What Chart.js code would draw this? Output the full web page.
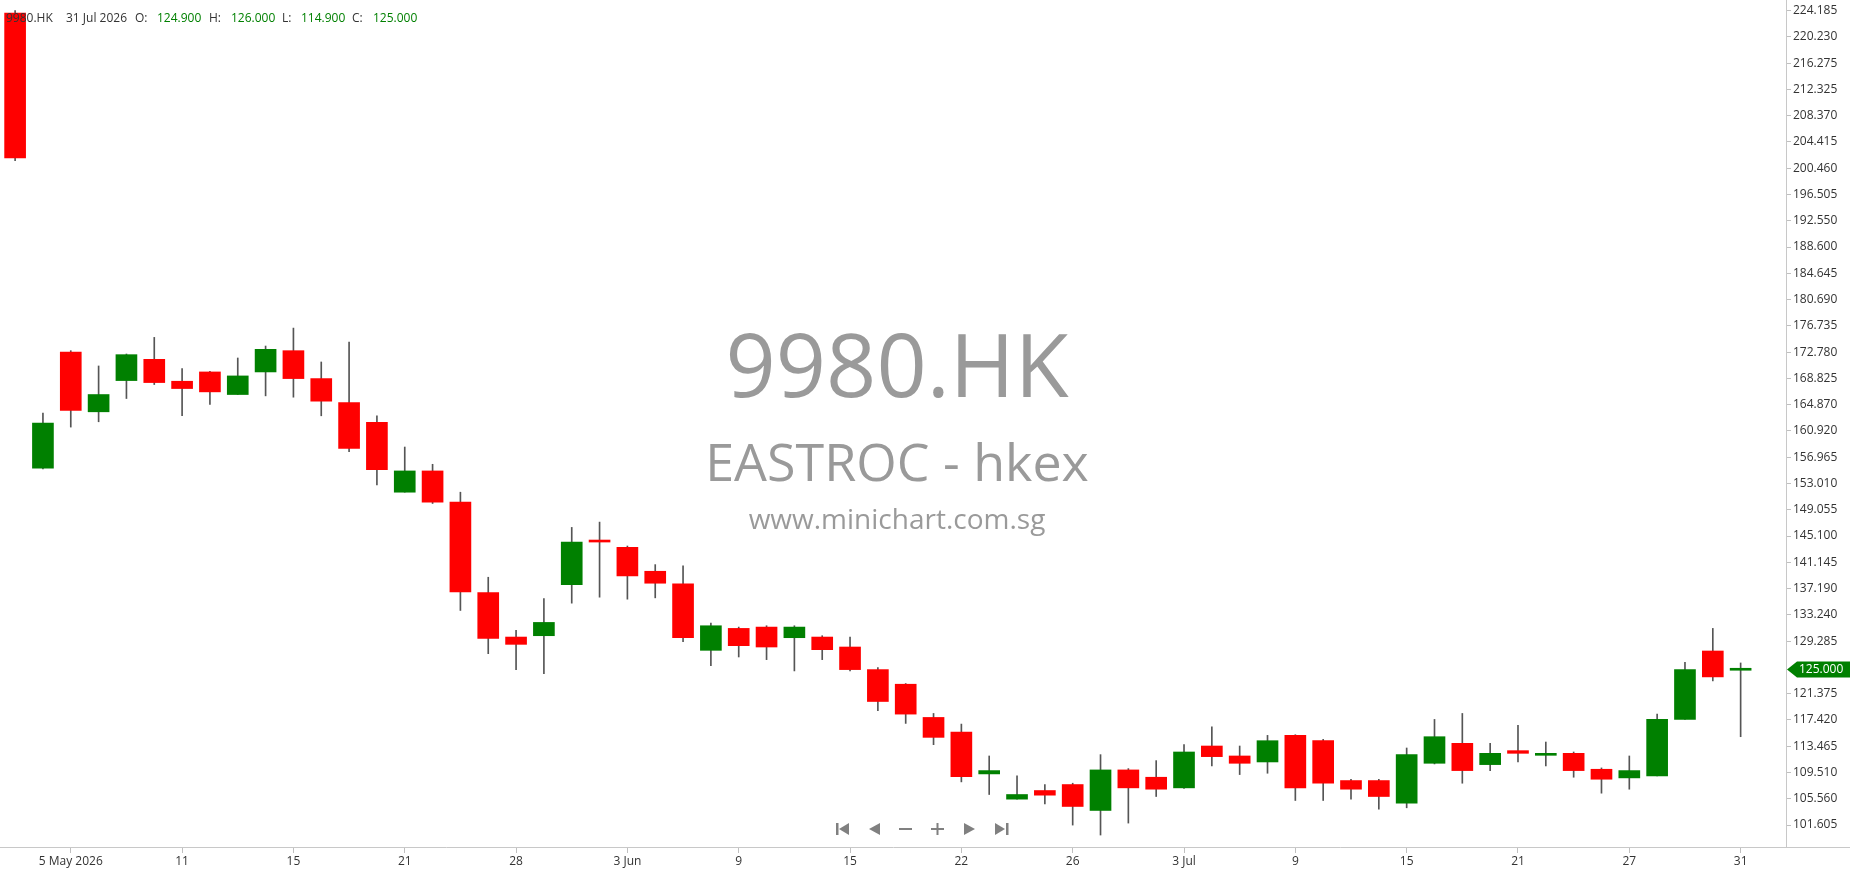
<!DOCTYPE html>
<html lang="en">
<head>
    <meta charset="UTF-8">
    <title>9980.HK - EASTROC</title>
    <script src="https://cdn.jsdelivr.net/npm/chart.js"></script>
    <style>
        html, body { margin: 0; padding: 0; background: #fff; overflow: hidden; }
        #chart { display: block; }
    </style>
</head>
<body>
    <canvas id="chart" width="1850" height="874"></canvas>

    <script>
        // trading days shown (30 Apr .. 31 Jul 2026)
        const dates = ['30 Apr', '4 May', '5 May', '6 May', '7 May', '8 May', '11 May', '12 May', '13 May', '14 May',
            '15 May', '18 May', '19 May', '20 May', '21 May', '22 May', '26 May', '27 May', '28 May', '29 May',
            '1 Jun', '2 Jun', '3 Jun', '4 Jun', '5 Jun', '8 Jun', '9 Jun', '10 Jun', '11 Jun', '12 Jun',
            '15 Jun', '16 Jun', '17 Jun', '18 Jun', '22 Jun', '23 Jun', '24 Jun', '25 Jun', '26 Jun', '29 Jun',
            '30 Jun', '2 Jul', '3 Jul', '6 Jul', '7 Jul', '8 Jul', '9 Jul', '10 Jul', '13 Jul', '14 Jul',
            '15 Jul', '16 Jul', '17 Jul', '20 Jul', '21 Jul', '22 Jul', '23 Jul', '24 Jul', '27 Jul', '28 Jul',
            '29 Jul', '30 Jul', '31 Jul'];

        const opens = [223.8, 155.3, 172.8, 163.8, 168.5, 171.7, 168.4, 169.8, 166.4, 169.8,
            173.0, 168.8, 165.2, 162.2, 151.7, 154.9, 150.2, 136.6, 129.9, 130.1,
            137.8, 144.3, 143.4, 139.8, 137.9, 127.9, 131.2, 131.4, 129.8, 129.9,
            128.4, 125.0, 122.8, 117.8, 115.6, 109.3, 105.5, 106.8, 107.7, 103.8,
            109.9, 108.8, 107.2, 113.5, 112.0, 111.1, 115.1, 114.3, 108.3, 108.3,
            104.9, 110.9, 113.9, 110.7, 112.8, 112.1, 112.4, 110.0, 108.7, 109.0,
            117.5, 127.8, 124.9];
        const highs = [224.2, 163.6, 173.0, 170.7, 172.5, 175.0, 170.3, 169.9, 171.9, 173.7,
            176.4, 171.3, 174.3, 163.2, 158.5, 155.9, 151.7, 138.9, 130.9, 135.7,
            146.4, 147.2, 143.6, 140.8, 140.6, 132.0, 131.4, 131.6, 131.6, 130.1,
            129.9, 125.3, 122.9, 118.4, 116.8, 112.0, 109.0, 107.7, 107.9, 112.2,
            110.1, 111.3, 113.7, 116.4, 113.5, 115.1, 115.2, 114.5, 108.5, 108.5,
            113.2, 117.5, 118.4, 113.9, 116.6, 114.1, 112.6, 110.2, 112.0, 118.3,
            126.1, 131.2, 126.0];
        const lows = [201.6, 155.2, 161.5, 162.3, 165.8, 167.9, 163.2, 164.9, 166.4, 166.2,
            166.0, 163.2, 157.8, 152.8, 151.7, 150.0, 133.9, 127.4, 125.0, 124.4,
            135.0, 135.9, 135.6, 135.8, 129.2, 125.6, 126.9, 126.5, 124.8, 126.5,
            124.8, 118.8, 116.9, 113.7, 108.1, 106.2, 105.5, 104.8, 101.6, 100.1,
            101.9, 105.9, 107.1, 110.5, 109.2, 109.4, 105.3, 105.3, 105.5, 104.0,
            104.2, 110.8, 107.9, 109.8, 111.1, 110.5, 108.8, 106.4, 107.0, 109.0,
            117.5, 123.3, 114.9];
        const closes = [202.0, 162.1, 164.0, 166.4, 172.4, 168.2, 167.3, 166.8, 169.2, 173.2,
            168.8, 165.4, 158.3, 155.1, 154.9, 150.2, 136.7, 129.7, 128.8, 132.1,
            144.2, 144.2, 139.1, 138.0, 129.8, 131.6, 128.6, 128.4, 131.4, 128.0,
            125.0, 120.2, 118.3, 114.8, 108.9, 109.8, 106.2, 106.1, 104.4, 109.9,
            107.2, 107.0, 112.6, 111.9, 110.9, 114.3, 107.2, 107.9, 107.0, 105.9,
            112.2, 114.9, 109.8, 112.4, 112.4, 112.2, 109.8, 108.5, 109.8, 117.5,
            125.0, 123.9, 125.0];

        const xTickDates = ['5 May', '11 May', '15 May', '21 May', '28 May', '3 Jun', '9 Jun', '15 Jun',
            '22 Jun', '26 Jun', '3 Jul', '9 Jul', '15 Jul', '21 Jul', '27 Jul', '31 Jul'];
        const xTickText = ['5 May 2026', '11', '15', '21', '28', '3 Jun', '9', '15',
            '22', '26', '3 Jul', '9', '15', '21', '27', '31'];

        const yTicks = [224.185, 220.230, 216.275, 212.325, 208.370, 204.415, 200.460, 196.505, 192.550,
            188.600, 184.645, 180.690, 176.735, 172.780, 168.825, 164.870, 160.920, 156.965, 153.010,
            149.055, 145.100, 141.145, 137.190, 133.240, 129.285, 121.375, 117.420, 113.465, 109.510,
            105.560, 101.605];

        const lastPrice = 125.000;
        const RED = '#ff0000', GREEN = '#008000';
        const FONT = '"Open Sans", "Noto Sans", sans-serif';

        const overlay = {
            id: 'overlay',
            beforeDatasetsDraw(chart) {
                const c = chart.ctx;
                c.save();
                c.fillStyle = '#9a9a9a';
                c.textAlign = 'center';
                c.textBaseline = 'alphabetic';
                c.font = '88px ' + FONT;
                c.fillText('9980.HK', 897, 397);
                c.font = '52px ' + FONT;
                c.fillText('EASTROC - hkex', 897, 481);
                c.font = '28px ' + FONT;
                c.fillText('www.minichart.com.sg', 897, 529);
                c.restore();
            },
            afterDraw(chart) {
                const c = chart.ctx;
                const area = chart.chartArea;
                c.save();

                // bottom line under the price axis
                c.strokeStyle = '#c8c8c8';
                c.lineWidth = 1;
                c.beginPath();
                c.moveTo(area.right, area.bottom + 0.5);
                c.lineTo(chart.width, area.bottom + 0.5);
                c.stroke();

                // last price marker
                const py = chart.scales.y.getPixelForValue(lastPrice);
                c.fillStyle = GREEN;
                c.beginPath();
                c.moveTo(area.right + 1, py);
                c.lineTo(area.right + 11, py - 8);
                c.lineTo(chart.width, py - 8);
                c.lineTo(chart.width, py + 8);
                c.lineTo(area.right + 11, py + 8);
                c.closePath();
                c.fill();
                c.fillStyle = '#fff';
                c.font = '12px ' + FONT;
                c.textAlign = 'left';
                c.textBaseline = 'middle';
                c.fillText(lastPrice.toFixed(3), area.right + 13, py);

                // navigation buttons
                c.fillStyle = '#808080';
                const ny = 829;
                const tri = (tipX, baseX) => {
                    c.beginPath();
                    c.moveTo(tipX, ny);
                    c.lineTo(baseX, ny - 6);
                    c.lineTo(baseX, ny + 6);
                    c.closePath();
                    c.fill();
                };
                c.fillRect(836, ny - 6, 2.5, 12); tri(839, 849);
                tri(869, 880);
                c.fillRect(899, ny - 1, 13, 2);
                c.fillRect(931, ny - 1, 13, 2); c.fillRect(936.5, ny - 6, 2, 12);
                tri(975, 964);
                tri(1005, 995); c.fillRect(1006, ny - 6, 2.5, 12);

                // header line
                c.font = '12px ' + FONT;
                c.textAlign = 'left';
                c.textBaseline = 'alphabetic';
                const hdr = [
                    ['9980.HK', 6, '#333'], ['31 Jul 2026', 66, '#333'],
                    ['O:', 135, '#333'], [opens[62].toFixed(3), 157, GREEN],
                    ['H:', 209, '#333'], [highs[62].toFixed(3), 231, GREEN],
                    ['L:', 282, '#333'], [lows[62].toFixed(3), 301, GREEN],
                    ['C:', 352, '#333'], [closes[62].toFixed(3), 373, GREEN]
                ];
                hdr.forEach(([t, x, col]) => { c.fillStyle = col; c.fillText(t, x, 22); });
                c.restore();
            }
        };

        const candleColor = ctx => closes[ctx.dataIndex] >= opens[ctx.dataIndex] ? GREEN : RED;

        new Chart(document.getElementById('chart').getContext('2d'), {
            type: 'bar',
            data: {
                datasets: [{
                    label: 'wick',
                    data: dates.map((d, i) => ({ x: i, y: [lows[i], highs[i]] })),
                    backgroundColor: '#555',
                    barThickness: 1,
                    grouped: false,
                    order: 2
                }, {
                    label: 'body',
                    data: dates.map((d, i) => ({ x: i, y: [opens[i], closes[i]] })),
                    backgroundColor: candleColor,
                    barThickness: 21,
                    minBarLength: 2,
                    grouped: false,
                    order: 1
                }]
            },
            options: {
                responsive: false,
                animation: false,
                layout: { padding: 0 },
                plugins: { legend: { display: false }, tooltip: { enabled: false } },
                scales: {
                    x: {
                        type: 'linear',
                        min: -0.543,
                        max: 63.63,
                        offset: false,
                        grid: { drawOnChartArea: false, offset: false, tickLength: 6, tickColor: '#c0c0c0' },
                        border: { color: '#c8c8c8' },
                        ticks: {
                            autoSkip: false, maxRotation: 0, padding: 1, color: '#333',
                            font: { family: FONT, size: 12 },
                            callback: (v, i) => xTickText[i]
                        },
                        afterBuildTicks: s => { s.ticks = xTickDates.map(d => ({ value: dates.indexOf(d) })); },
                        afterFit: s => { s.height = 27; s.paddingLeft = 0; s.paddingRight = 0; }
                    },
                    y: {
                        position: 'right',
                        min: 98.30,
                        max: 225.78,
                        grid: { drawOnChartArea: false, tickLength: 5, tickColor: '#c0c0c0' },
                        border: { color: '#c8c8c8' },
                        ticks: {
                            padding: 2, color: '#333',
                            font: { family: FONT, size: 12 },
                            callback: v => Number(v).toFixed(3)
                        },
                        afterBuildTicks: s => { s.ticks = yTicks.map(v => ({ value: v })); },
                        afterFit: s => { s.width = 64; s.paddingTop = 0; s.paddingBottom = 0; }
                    }
                }
            },
            plugins: [overlay]
        });
    </script>
</body>
</html>
